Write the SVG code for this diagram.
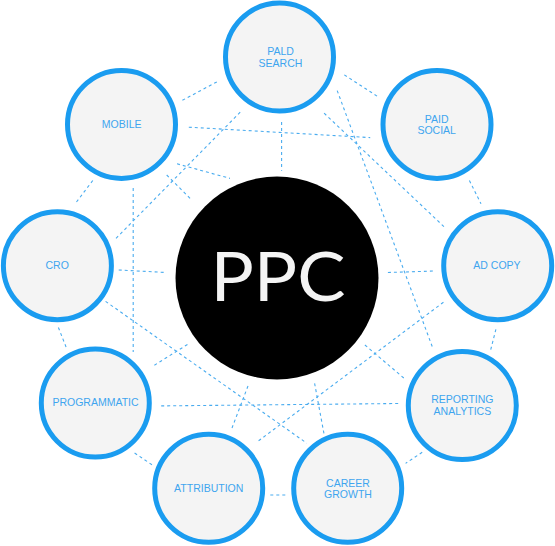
<svg xmlns="http://www.w3.org/2000/svg" width="555" height="546" viewBox="0 0 555 546">
<style>
.node circle{fill:#f4f4f4;stroke:#1a9cf0;stroke-width:5}
.node text{font-family:"Liberation Sans",Arial,sans-serif;font-size:10.5px;fill:#3ea5ef;text-anchor:middle}
#connectors line{stroke:#4aacef;stroke-width:1.1;stroke-dasharray:3 3;fill:none}
</style>
<rect width="555" height="546" fill="#ffffff"/>
<g id="connectors">
<line x1="182.4" y1="100.3" x2="218.9" y2="80.8"/>
<line x1="344.3" y1="74.9" x2="378.3" y2="96.9"/>
<line x1="188.8" y1="127.2" x2="370.2" y2="137.6"/>
<line x1="281.6" y1="122" x2="281.6" y2="170.7"/>
<line x1="240.2" y1="112.2" x2="114" y2="240.4"/>
<line x1="177" y1="163.8" x2="230" y2="178.4"/>
<line x1="166.7" y1="175" x2="191.7" y2="200"/>
<line x1="133.2" y1="188" x2="133.2" y2="352"/>
<line x1="118.7" y1="270" x2="166.5" y2="272.5"/>
<line x1="92.8" y1="180.5" x2="75.1" y2="203.8"/>
<line x1="58.4" y1="327.5" x2="66.6" y2="348.4"/>
<line x1="105.6" y1="301.4" x2="306.8" y2="443.2"/>
<line x1="154.4" y1="365.2" x2="189.5" y2="343.2"/>
<line x1="161.2" y1="405.9" x2="399.6" y2="403.5"/>
<line x1="134.6" y1="453" x2="152.3" y2="465"/>
<line x1="248" y1="386" x2="232" y2="428"/>
<line x1="270.3" y1="495" x2="286.9" y2="495"/>
<line x1="314.6" y1="383.3" x2="324" y2="433.8"/>
<line x1="258.6" y1="440.8" x2="444.6" y2="301.4"/>
<line x1="364.9" y1="345" x2="403.8" y2="378"/>
<line x1="422.2" y1="452.3" x2="405.6" y2="463.4"/>
<line x1="387.9" y1="272.5" x2="435" y2="271"/>
<line x1="495.9" y1="329.3" x2="490.6" y2="350.2"/>
<line x1="469.4" y1="180.5" x2="481" y2="203.8"/>
<line x1="337.2" y1="90.6" x2="432.9" y2="348.4"/>
<line x1="324.1" y1="113.2" x2="445.6" y2="228.2"/>
</g>
<g id="ppc">
<circle cx="277" cy="278" r="101.5" fill="#000000"/>
<text x="278" y="301.4" font-family="Lato,'Liberation Sans',sans-serif" font-weight="400" font-size="68" fill="#f4f4f4" text-anchor="middle" textLength="135" lengthAdjust="spacingAndGlyphs">PPC</text>
</g>
<g id="paid-search" class="node"><circle cx="279.5" cy="57" r="54"/><text x="280.5" y="55">PALD</text><text x="280.5" y="66.7">SEARCH</text></g>
<g id="mobile" class="node"><circle cx="121.5" cy="124.4" r="54"/><text x="121.7" y="127.8">MOBILE</text></g>
<g id="paid-social" class="node"><circle cx="437" cy="124.4" r="54"/><text x="436.7" y="122.6">PAID</text><text x="436.7" y="134">SOCIAL</text></g>
<g id="cro" class="node"><circle cx="57.4" cy="265.7" r="54"/><text x="57.2" y="269">CRO</text></g>
<g id="ad-copy" class="node"><circle cx="497.7" cy="265.7" r="54"/><text x="497" y="269">AD COPY</text></g>
<g id="programmatic" class="node"><circle cx="95.3" cy="403" r="54"/><text x="95.5" y="406.3">PROGRAMMATIC</text></g>
<g id="reporting-analytics" class="node"><circle cx="462.3" cy="405.5" r="54"/><text x="462.4" y="403.4">REPORTING</text><text x="462.4" y="415">ANALYTICS</text></g>
<g id="attribution" class="node"><circle cx="208.7" cy="488.3" r="54"/><text x="208.7" y="491.8">ATTRIBUTION</text></g>
<g id="career-growth" class="node"><circle cx="347.7" cy="488.3" r="54"/><text x="348" y="486.6">CAREER</text><text x="348" y="498.2">GROWTH</text></g>
</svg>
